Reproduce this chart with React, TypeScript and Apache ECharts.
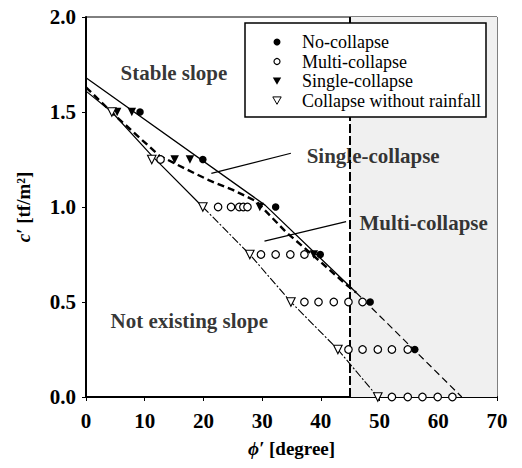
import React, { useEffect, useRef } from "react";
import * as echarts from "echarts";

// ---- data (phi' [deg], c' [tf/m2]) ----
const noCollapse = [[9.2, 1.5], [19.9, 1.25], [32.3, 1.0], [39.9, 0.75], [48.4, 0.5], [56.0, 0.25]];
const multiCollapse = [
  [12.7, 1.25],
  [22.5, 1.0], [24.7, 1.0], [26.1, 1.0], [26.8, 1.0], [27.5, 1.0],
  [29.8, 0.75], [32.3, 0.75], [34.8, 0.75], [37.2, 0.75],
  [37.2, 0.5], [39.6, 0.5], [42.2, 0.5], [44.7, 0.5], [47.1, 0.5],
  [44.7, 0.25], [47.1, 0.25], [49.7, 0.25], [52.1, 0.25], [54.8, 0.25],
  [52.1, 0.0], [54.8, 0.0], [57.3, 0.0], [59.9, 0.0], [62.4, 0.0],
];
const singleCollapse = [[5.3, 1.5], [7.8, 1.5], [15.1, 1.25], [17.7, 1.25], [29.6, 1.0], [38.8, 0.75]];
const collapseNoRain = [[4.4, 1.5], [11.2, 1.25], [19.9, 1.0], [27.9, 0.75], [34.9, 0.5], [42.9, 0.25], [49.7, 0.0]];

// boundary lines
const upperSolidLine = [[0, 1.68], [30.5, 1.01], [46, 0.55]];
const upperTailLine = [[46, 0.55], [64, 0.0]];
const singleBoundary = [[0, 1.63], [5, 1.48], [12.5, 1.27], [17, 1.2], [21, 1.14], [25, 1.09], [29, 1.03], [31.5, 0.95], [34, 0.87], [37, 0.79], [40, 0.71], [44, 0.6], [46, 0.55]];
const lowerLineTop = [[0, 1.61], [4.4, 1.5], [11.2, 1.27], [19.9, 1.0]];
const lowerLineBottom = [[19.9, 1.0], [27.9, 0.75], [34.9, 0.5], [42.9, 0.25], [49.7, 0.0]];

const rainfallLimitPhi = 45;
const shadedRange = [45, 70];
const pointerSingle = [[21.35, 1.177], [34.9, 1.283]];
const pointerMulti = [[30.4, 0.82], [44.3, 0.923]];
const annotations = [
  [5.8, 1.705, "Stable slope"],
  [4.1, 0.4, "Not existing slope"],
  [37.5, 1.27, "Single-collapse"],
  [46.5, 0.917, "Multi-collapse"],
];
const legendNames = ["No-collapse", "Multi-collapse", "Single-collapse", "Collapse without rainfall"];

const xTicks = { min: 0, max: 70, interval: 10 };
const yTicks = { min: 0, max: 2, interval: 0.5 };

const SERIF = "Liberation Serif";

export default function App() {
  const ref = useRef<HTMLDivElement>(null);
  useEffect(() => {
    if (!ref.current) return;
    const chart = echarts.init(ref.current, null, { renderer: "svg" });

    const lineBase = (name: string, data: number[][], lineStyle: any, z = 3) => ({
      name,
      type: "line",
      data,
      symbol: "none",
      silent: true,
      z,
      lineStyle: { color: "#000", ...lineStyle },
    });

    const legX = 245, legY = 23, legW = 241, legH = 94;
    const rowY = [42, 61.5, 81, 100.5];
    const symX = 277;
    const txtX = 302;
    const tri = (cx: number, cy: number) => [[cx - 4.2, cy - 3.6], [cx + 4.2, cy - 3.6], [cx, cy + 3.8]];
    const G = { z: 100, zlevel: 0 };

    const option: any = {
      animation: false,
      backgroundColor: "#fff",
      textStyle: { fontFamily: SERIF },
      grid: { left: 86, right: 25, top: 17, bottom: 71, show: true, borderColor: "#000", borderWidth: 1, backgroundColor: "transparent" },
      xAxis: {
        type: "value",
        ...xTicks,
        axisLine: { show: true, onZero: false, lineStyle: { color: "#000", width: 2 } },
        axisTick: { show: true, length: 4, lineStyle: { color: "#000", width: 1 } },
        splitLine: { show: false },
        axisLabel: { color: "#000", fontFamily: SERIF, fontWeight: "bold", fontSize: 21, margin: 13 },
        name: "{i|ϕ′} [degree]",
        nameLocation: "middle",
        nameGap: 42,
        nameTextStyle: {
          color: "#000", fontFamily: SERIF, fontWeight: "bold", fontSize: 19,
          rich: { i: { fontStyle: "italic", fontWeight: "bold", fontFamily: SERIF, fontSize: 19, color: "#000" } },
        },
      },
      yAxis: {
        type: "value",
        ...yTicks,
        axisLine: { show: true, onZero: false, lineStyle: { color: "#000", width: 2 } },
        axisTick: { show: true, length: 4, lineStyle: { color: "#000", width: 1 } },
        splitLine: { show: false },
        axisLabel: { color: "#000", fontFamily: SERIF, fontWeight: "bold", fontSize: 21, margin: 10, formatter: (v: number) => v.toFixed(1) },
        name: "{i|c′} [tf/m²]",
        nameLocation: "middle",
        nameGap: 53,
        nameRotate: 90,
        nameTextStyle: {
          color: "#000", fontFamily: SERIF, fontWeight: "bold", fontSize: 19,
          rich: { i: { fontStyle: "italic", fontWeight: "bold", fontFamily: SERIF, fontSize: 19, color: "#000" } },
        },
      },
      series: [
        {
          name: "bg",
          type: "line",
          data: [],
          z: 1,
          silent: true,
          markArea: {
            silent: true,
            itemStyle: { color: "#f0f0f0" },
            data: [[{ xAxis: shadedRange[0], yAxis: yTicks.min }, { xAxis: shadedRange[1], yAxis: yTicks.max }]],
          },
          markLine: {
            silent: true,
            symbol: ["none", "none"],
            label: { show: false },
            lineStyle: { color: "#000", width: 2, type: [9, 3] },
            data: [
              [{ coord: [rainfallLimitPhi, yTicks.min] }, { coord: [rainfallLimitPhi, yTicks.max] }],
              [{ coord: pointerSingle[0], lineStyle: { type: "solid", width: 1.2 } }, { coord: pointerSingle[1] }],
              [{ coord: pointerMulti[0], lineStyle: { type: "solid", width: 1.2 } }, { coord: pointerMulti[1] }],
            ],
          },
        },
        lineBase("upper", upperSolidLine, { width: 1.3, type: "solid" }),
        lineBase("upperTail", upperTailLine, { width: 1.2, type: [7, 4] }),
        lineBase("singleBoundary", singleBoundary, { width: 2.4, type: [7, 4] }),
        lineBase("lowerTop", lowerLineTop, { width: 1.2, type: "solid" }),
        lineBase("lowerBottom", lowerLineBottom, { width: 1.1, type: [8, 2, 2, 2] }),
        {
          name: legendNames[0], type: "scatter", data: noCollapse, symbol: "circle", symbolSize: 7.5, z: 5,
          itemStyle: { color: "#000", opacity: 1 },
        },
        {
          name: legendNames[1], type: "scatter", data: multiCollapse, symbol: "circle", symbolSize: 7.5, z: 5, clip: false,
          itemStyle: { color: "#fff", borderColor: "#000", borderWidth: 1.2, opacity: 1 },
        },
        {
          name: legendNames[2], type: "scatter", data: singleCollapse, symbol: "triangle", symbolRotate: 180, symbolSize: 8.5, z: 5,
          itemStyle: { color: "#000", opacity: 1 },
        },
        {
          name: legendNames[3], type: "scatter", data: collapseNoRain, symbol: "triangle", symbolRotate: 180, symbolSize: 8.5, z: 5, clip: false,
          itemStyle: { color: "#fff", borderColor: "#000", borderWidth: 1.1, opacity: 1 },
        },
        {
          name: "annotations",
          type: "scatter",
          data: annotations.map((a) => ({ value: [a[0], a[1]], label: { formatter: a[2] as string } })),
          symbolSize: 1,
          itemStyle: { color: "rgba(0,0,0,0)" },
          silent: true,
          z: 6,
          label: {
            show: true, position: "right", distance: 0, color: "#000",
            fontFamily: SERIF, fontWeight: "bold", fontSize: 21,
          },
        },
      ],
      graphic: [
        { type: "rect", ...G, shape: { x: legX, y: legY, width: legW, height: legH }, style: { fill: "#fff", stroke: "#000", lineWidth: 1.5 } },
        { type: "circle", ...G, z: 101, shape: { cx: symX, cy: rowY[0], r: 3.5 }, style: { fill: "#000" } },
        { type: "circle", ...G, z: 101, shape: { cx: symX, cy: rowY[1], r: 3 }, style: { fill: "#fff", stroke: "#000", lineWidth: 1.2 } },
        { type: "polygon", ...G, z: 101, shape: { points: tri(symX, rowY[2]) }, style: { fill: "#000" } },
        { type: "polygon", ...G, z: 101, shape: { points: tri(symX, rowY[3]) }, style: { fill: "#fff", stroke: "#000", lineWidth: 1 } },
        ...legendNames.map((n, i) => ({
          type: "text",
          ...G,
          z: 101,
          x: txtX,
          y: rowY[i],
          style: { text: n, fill: "#000", fontFamily: SERIF, fontSize: 18, verticalAlign: "middle", align: "left" },
        })),
      ],
    };
    chart.setOption(option);
    return () => chart.dispose();
  }, []);
  return <div ref={ref} style={{ position: "fixed", left: 0, top: 0, width: 522, height: 468, background: "#fff" }} />;
}
